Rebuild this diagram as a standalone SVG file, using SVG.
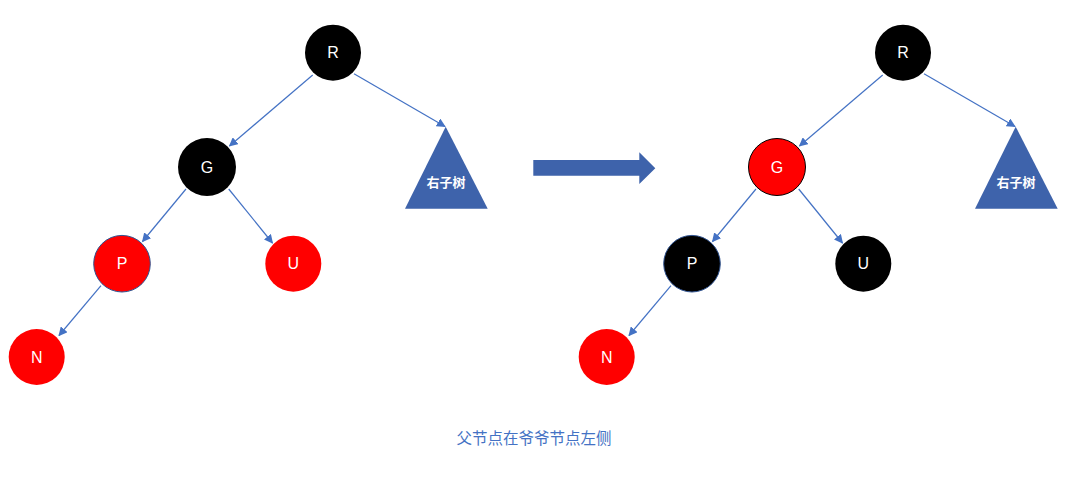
<svg xmlns="http://www.w3.org/2000/svg" width="1068" height="477" viewBox="0 0 1068 477">
<defs>
<style>
.edge{stroke:#4472C4;stroke-width:1.2;fill:none;marker-end:url(#ah)}
.lbl{font-family:"Liberation Sans","Noto Sans",sans-serif;font-size:16px;fill:#fff;text-anchor:middle;dominant-baseline:central}
.tri{fill:#3E63AB}
.trilbl{font-family:"Noto Sans CJK SC",sans-serif;font-size:13px;font-weight:bold;fill:#fff;text-anchor:middle;dominant-baseline:central}
.black{fill:#000}
.red{fill:#FF0000}
</style>
<marker id="ah" viewBox="0 0 10 10" refX="9" refY="5" markerWidth="9" markerHeight="9" markerUnits="userSpaceOnUse" orient="auto">
<path d="M0,0 L10,5 L0,10 z" fill="#4472C4"/>
</marker>
</defs>
<rect width="1068" height="477" fill="#fff"/>
<g id="connectors">
<line class="edge" x1="312.7" y1="75" x2="229.5" y2="146"/>
<line class="edge" x1="354" y1="73.7" x2="445" y2="126.5"/>
<line class="edge" x1="186" y1="189" x2="142.5" y2="241.5"/>
<line class="edge" x1="228.7" y1="189" x2="272.5" y2="243"/>
<line class="edge" x1="101" y1="285.7" x2="59" y2="335.5"/>
<line class="edge" x1="882.7" y1="75" x2="799.5" y2="146"/>
<line class="edge" x1="924" y1="73.7" x2="1015" y2="126.5"/>
<line class="edge" x1="756" y1="189" x2="712.5" y2="241.5"/>
<line class="edge" x1="798.7" y1="189" x2="842.5" y2="243"/>
<line class="edge" x1="671" y1="285.7" x2="629" y2="335.5"/>
</g>
<g id="L-R"><circle class="black" cx="333" cy="52.7" r="28"/><text class="lbl" x="333" y="52.7">R</text></g>
<g id="L-G"><circle class="black" cx="207" cy="167" r="29"/><text class="lbl" x="207" y="167">G</text></g>
<g id="L-P"><circle class="red" cx="122" cy="263.7" r="28.3" stroke="#2F528F" stroke-width="1"/><text class="lbl" x="122" y="263.7">P</text></g>
<g id="L-U"><circle class="red" cx="293.3" cy="263.7" r="28"/><text class="lbl" x="293.3" y="263.7">U</text></g>
<g id="L-N"><circle class="red" cx="36.7" cy="357" r="28"/><text class="lbl" x="36.7" y="357">N</text></g>
<g id="L-subtree"><polygon class="tri" points="445.7,126.7 487.7,208.7 405,208.7"/><text class="trilbl" x="446" y="181.7">右子树</text></g>
<g id="transform-arrow"><polygon class="tri" points="533.3,160 639.3,160 639.3,152.3 655.3,168.3 639.3,184 639.3,175.7 533.3,175.7"/></g>
<g id="R-R"><circle class="black" cx="903" cy="52.7" r="28"/><text class="lbl" x="903" y="52.7">R</text></g>
<g id="R-G"><circle class="red" cx="777" cy="167" r="28.5" stroke="#000" stroke-width="1"/><text class="lbl" x="777" y="167">G</text></g>
<g id="R-P"><circle class="black" cx="692" cy="263.7" r="28.3" stroke="#2F528F" stroke-width="1"/><text class="lbl" x="692" y="263.7">P</text></g>
<g id="R-U"><circle class="black" cx="863.3" cy="263.7" r="28"/><text class="lbl" x="863.3" y="263.7">U</text></g>
<g id="R-N"><circle class="red" cx="606.7" cy="357" r="28"/><text class="lbl" x="606.7" y="357">N</text></g>
<g id="R-subtree"><polygon class="tri" points="1015.7,126.7 1057.7,208.7 975,208.7"/><text class="trilbl" x="1016" y="181.7">右子树</text></g>
<g id="caption"><text x="534" y="437" font-family="Noto Sans CJK SC,sans-serif" font-size="15.5" fill="#4472C4" text-anchor="middle" dominant-baseline="central">父节点在爷爷节点左侧</text></g>
</svg>
